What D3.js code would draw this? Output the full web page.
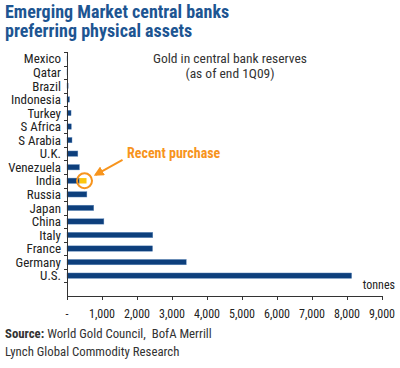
<!DOCTYPE html>
<html><head><meta charset="utf-8">
<script src="https://cdn.jsdelivr.net/npm/d3@7"></script>
<style>
body{margin:0;background:#fff;}
svg{display:block;}
text{font-family:"Liberation Sans Narrow","Arial Narrow","Roboto Condensed",sans-serif;}
</style></head>
<body><svg id="c" width="400" height="368"></svg>
<script>
const categories = ["Mexico","Qatar","Brazil","Indonesia","Turkey","S Africa","S Arabia","U.K.","Venezuela","India","Russia","Japan","China","Italy","France","Germany","U.S."];
const reserves = [7.0,12.4,33.6,73.1,116.1,124.9,143.0,310.3,356.4,357.7,568.4,765.2,1054.0,2451.8,2445.1,3408.3,8133.5];
const recentPurchase = [0,0,0,0,0,0,0,0,0,200,0,0,0,0,0,0,0];
const xTicks = [0,1000,2000,3000,4000,5000,6000,7000,8000,9000];
const titleLines = ["Emerging Market central banks","preferring physical assets"];
const subtitleLines = ["Gold in central bank reserves","(as of end 1Q09)"];

const svg = d3.select("#c");
const x = d3.scaleLinear().domain([0,9000]).range([67,382]);
const domainY = categories.concat(["__pad"]);
const y = d3.scaleBand().domain(domainY).range([52,296]).paddingInner(0.6).paddingOuter(0.3);
const step = y.step();
const y0 = y.range()[0], y1 = y.range()[1];

// title
svg.append("g").selectAll("text").data(titleLines).join("text")
  .attr("x",5).attr("y",(d,i)=>17.5+i*19)
  .attr("font-size",18).attr("font-weight","bold").attr("fill","#1d5592")
  .text(d=>d);

// subtitle
svg.append("g").selectAll("text").data(subtitleLines).join("text")
  .attr("x",230).attr("y",(d,i)=>63+i*15).attr("text-anchor","middle")
  .attr("font-size",13.5).attr("fill","#333")
  .text(d=>d);

// bars
const bars = svg.append("g");
bars.selectAll("rect.main").data(categories).join("rect").attr("class","main")
  .attr("x",x(0)).attr("y",d=>y(d)).attr("height",y.bandwidth())
  .attr("width",(d,i)=>x(reserves[i])-x(0))
  .attr("fill","#0d3f7c").attr("stroke","#6d95c4").attr("stroke-width",0.4);
bars.selectAll("rect.recent").data(categories.filter((d,i)=>recentPurchase[i]>0)).join("rect").attr("class","recent")
  .attr("x",d=>x(reserves[categories.indexOf(d)]))
  .attr("y",d=>y(d)).attr("height",y.bandwidth())
  .attr("width",d=>x(reserves[categories.indexOf(d)]+recentPurchase[categories.indexOf(d)])-x(reserves[categories.indexOf(d)]))
  .attr("fill","#fcc60f");

// y axis line & ticks at band boundaries
const ax = svg.append("g").attr("stroke","#333").attr("stroke-width",1);
ax.append("line").attr("x1",x(0)+0.5).attr("x2",x(0)+0.5).attr("y1",y0).attr("y2",y1+0.5);
const boundaries = d3.range(domainY.length).map(i=>y0+i*step);
ax.selectAll("line.yt").data(boundaries).join("line").attr("class","yt")
  .attr("x1",x(0)-3).attr("x2",x(0)).attr("y1",d=>Math.round(d)+0.5).attr("y2",d=>Math.round(d)+0.5);
// x axis
ax.append("line").attr("x1",x(0)).attr("x2",x(9000)).attr("y1",y1+0.5).attr("y2",y1+0.5);
ax.selectAll("line.xt").data(xTicks).join("line").attr("class","xt")
  .attr("x1",d=>Math.round(x(d))+0.5).attr("x2",d=>Math.round(x(d))+0.5).attr("y1",y1).attr("y2",y1+4);

// category labels
svg.append("g").selectAll("text").data(categories).join("text")
  .attr("x",61).attr("y",d=>y(d)+y.bandwidth()/2).attr("dy","0.36em")
  .attr("text-anchor","end").attr("font-size",13).attr("fill","#222").text(d=>d);

// x tick labels
svg.append("g").selectAll("text").data(xTicks).join("text")
  .attr("x",d=>x(d)).attr("y",y1+22).attr("text-anchor","middle")
  .attr("font-size",12).attr("fill","#222")
  .text(d=>d===0?"-":d3.format(",")(d));

svg.append("text").attr("x",395).attr("y",y1-7).attr("text-anchor","end")
  .attr("font-size",12).attr("fill","#222").text("tonnes");

// annotation
const iIdx = categories.indexOf("India");
const cx = x(reserves[iIdx]+recentPurchase[iIdx]/2)+1.5, cy = y("India")+y.bandwidth()/2;
const orange = "#f7941d";
svg.append("circle").attr("cx",cx).attr("cy",cy).attr("r",7.5)
  .attr("fill","none").attr("stroke",orange).attr("stroke-width",2);
svg.append("defs").append("marker").attr("id","ah").attr("viewBox","0 0 10 10")
  .attr("refX",8).attr("refY",5).attr("markerWidth",5).attr("markerHeight",5).attr("orient","auto")
  .append("path").attr("d","M0,0L10,5L0,10z").attr("fill",orange);
svg.append("line").attr("x1",cx+38).attr("y1",cy-21).attr("x2",cx+11).attr("y2",cy-6)
  .attr("stroke",orange).attr("stroke-width",2).attr("marker-end","url(#ah)");
svg.append("text").attr("x",127).attr("y",cy-23).attr("font-size",14).attr("font-weight","bold")
  .attr("fill",orange).text("Recent purchase");

// source
const src = svg.append("text").attr("x",5).attr("y",338).attr("font-size",12.8).attr("fill","#333");
src.append("tspan").attr("font-weight","bold").text("Source:");
src.append("tspan").text(" World Gold Council,\u00a0 BofA Merrill");
svg.append("text").attr("x",5).attr("y",356).attr("font-size",12.8).attr("fill","#333").text("Lynch Global Commodity Research");
</script></body></html>
